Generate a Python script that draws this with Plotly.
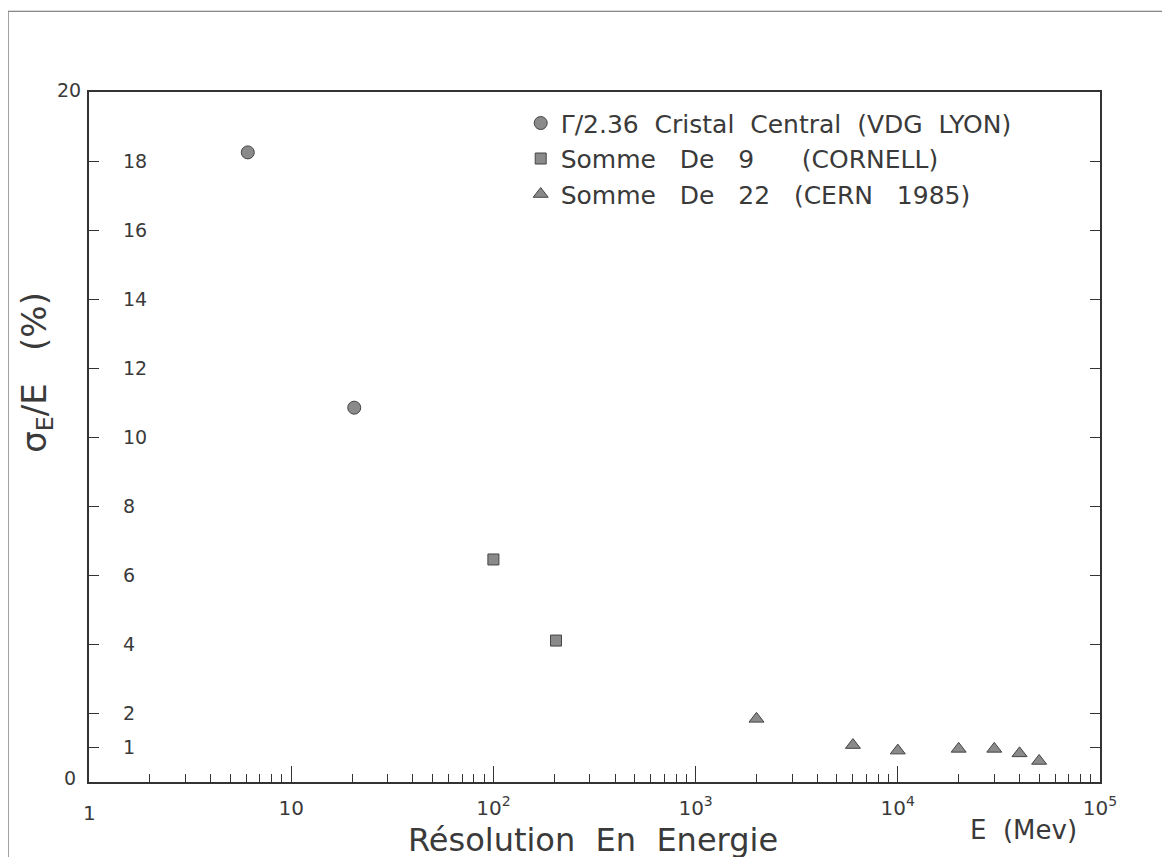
import plotly.graph_objects as go

# ---- data ----
lyon_E = [6.1, 20.5]
lyon_res = [18.25, 10.85]

cornell_E = [100, 204]
cornell_res = [6.45, 4.1]

cern_E = [2000, 6000, 10000, 20000, 30000, 40000, 50000]
cern_res = [1.83, 1.07, 0.91, 0.96, 0.96, 0.83, 0.61]

names = ["Γ/2.36  Cristal  Central  (VDG  LYON)",
         "Somme   De   9      (CORNELL)",
         "Somme   De   22   (CERN   1985)"]

y_tickvals = [1, 2, 4, 6, 8, 10, 12, 14, 16, 18]
x_tickvals = [1, 10, 100, 1000, 10000, 100000]
x_ticktext = ["", "10", "10<sup>2</sup>", "10<sup>3</sup>", "10<sup>4</sup>", "10<sup>5</sup>"]
x_minor = [k * 10 ** d for d in range(5) for k in range(2, 10)]

FONT = "DejaVu Sans"
INK = "#3a3a3a"
FILL = "#8a8a8a"

fig = go.Figure()
fig.add_trace(go.Scatter(x=lyon_E, y=lyon_res, mode="markers", name=names[0],
                         marker=dict(symbol="circle", size=13, color=FILL,
                                     line=dict(color="#444", width=1))))
fig.add_trace(go.Scatter(x=cornell_E, y=cornell_res, mode="markers", name=names[1],
                         marker=dict(symbol="square", size=11, color=FILL,
                                     line=dict(color="#444", width=1))))
fig.add_trace(go.Scatter(x=cern_E, y=cern_res, mode="markers", name=names[2],
                         marker=dict(symbol="triangle-up", size=13, color=FILL,
                                     line=dict(color="#444", width=1))))

fig.update_layout(
    width=1170, height=857,
    margin=dict(l=81, r=78, t=84, b=83),
    paper_bgcolor="white", plot_bgcolor="white",
    font=dict(family=FONT, color=INK, size=20),
    showlegend=True,
    legend=dict(x=0.427, y=0.988, xanchor="left", yanchor="top",
                bgcolor="rgba(0,0,0,0)", itemwidth=30,
                font=dict(family=FONT, size=25, color=INK)),
    xaxis=dict(type="log", range=[0, 5], showgrid=False, zeroline=False,
               showline=True, linecolor="#333", linewidth=1.5, mirror=True,
               ticks="inside", ticklen=16, tickcolor="#333",
               tickvals=x_tickvals, ticktext=x_ticktext,
               tickfont=dict(size=20, color=INK),
               ticklabelstandoff=7,
               minor=dict(ticks="inside", ticklen=8, tickcolor="#333",
                          tickvals=x_minor, showgrid=False)),
    yaxis=dict(range=[0, 20], showgrid=False, zeroline=False,
               showline=True, linecolor="#333", linewidth=1.5, mirror="ticks",
               ticks="inside", ticklen=10, tickcolor="#333",
               tickvals=y_tickvals, ticklabelposition="inside",
               ticklabelstandoff=25,
               tickfont=dict(size=19, color=INK)),
)

ann = [
    dict(text="Résolution  En  Energie", x=0.4985, y=-0.084, xref="paper", yref="paper",
         xanchor="center", yanchor="middle", showarrow=False,
         font=dict(size=32, color=INK, family=FONT)),
    dict(text="E  (Mev)", x=0.924, y=-0.0696, xref="paper", yref="paper",
         xanchor="center", yanchor="middle", showarrow=False,
         font=dict(size=26, color=INK, family=FONT)),
    dict(text="σ<sub>E</sub>/E   (%)", x=-0.0514, y=0.593, xref="paper", yref="paper",
         xanchor="center", yanchor="middle", showarrow=False, textangle=-90,
         font=dict(size=34, color=INK, family=FONT)),
    dict(text="1", x=0, y=-0.045, xref="paper", yref="paper",
         xanchor="center", yanchor="middle", showarrow=False,
         font=dict(size=20, color=INK, family=FONT)),
    dict(text="0", x=-0.011, y=0.006, xref="paper", yref="paper",
         xanchor="right", yanchor="middle", showarrow=False,
         font=dict(size=19, color=INK, family=FONT)),
    dict(text="20", x=-0.006, y=1.003, xref="paper", yref="paper",
         xanchor="right", yanchor="middle", showarrow=False,
         font=dict(size=19, color=INK, family=FONT)),
]
fig.update_layout(annotations=ann)

# page border (scanned sheet edge)
fig.add_shape(type="line", xref="paper", yref="paper",
              x0=-0.080, x1=1.08, y0=1.117, y1=1.117,
              line=dict(color="#666", width=1))
fig.add_shape(type="line", xref="paper", yref="paper",
              x0=-0.080, x1=-0.080, y0=1.117, y1=-0.12,
              line=dict(color="#666", width=1))

fig.write_html("out.html")
